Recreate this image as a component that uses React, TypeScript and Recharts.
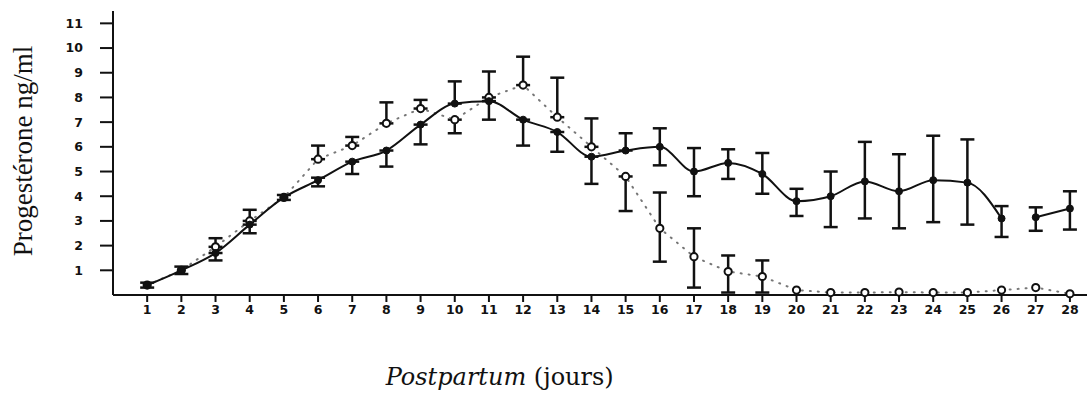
import React from 'react';
import { LineChart, Line, XAxis, YAxis, ErrorBar, Label } from 'recharts';

const days = [1, 2, 3, 4, 5, 6, 7, 8, 9, 10, 11, 12, 13, 14, 15, 16, 17, 18, 19, 20, 21, 22, 23, 24, 25, 26, 27, 28];
const yTicks = [1, 2, 3, 4, 5, 6, 7, 8, 9, 10, 11];

const solidMean = [0.4, 1.0, 1.7, 2.85, 3.95, 4.65, 5.4, 5.85, 6.9, 7.75, 7.85, 7.1, 6.6, 5.6, 5.85, 6.0, 5.0, 5.35, 4.9, 3.8, 4.0, 4.6, 4.2, 4.65, 4.55, 3.1, 3.15, 3.5];
const solidErrLow = [0.1, 0.15, 0.3, 0.35, 0.1, 0.25, 0.5, 0.65, 0.8, 0, 0.75, 1.05, 0.8, 1.1, 0, 0.75, 1.0, 0.65, 0.8, 0.6, 1.25, 1.5, 1.5, 1.7, 1.7, 0.75, 0.55, 0.85];
const solidErrHigh = [0.1, 0.15, 0, 0, 0.1, 0.1, 0, 0, 0, 0.9, 0, 0, 0, 0, 0.7, 0.75, 0.95, 0.55, 0.85, 0.5, 1.0, 1.6, 1.5, 1.8, 1.75, 0.5, 0.4, 0.7];

const openMean = [0.4, 1.0, 1.95, 3.0, 3.95, 5.5, 6.05, 6.95, 7.55, 7.1, 8.0, 8.5, 7.2, 6.0, 4.8, 2.7, 1.55, 0.95, 0.75, 0.2, 0.1, 0.1, 0.12, 0.1, 0.1, 0.2, 0.3, 0.05];
const openErrLow = [0, 0, 0, 0, 0, 0, 0, 0, 0, 0.55, 0, 0, 0, 0, 1.4, 1.35, 1.25, 0.85, 0.65, 0, 0, 0, 0, 0, 0, 0, 0, 0];
const openErrHigh = [0, 0, 0.35, 0.45, 0, 0.55, 0.35, 0.85, 0.35, 0, 1.05, 1.15, 1.6, 1.15, 0, 1.45, 1.15, 0.65, 0.65, 0, 0, 0, 0, 0, 0, 0, 0, 0];

const GAP_AFTER_DAY = 26;

const err = (lo: number, hi: number) => (lo === 0 && hi === 0 ? undefined : [lo, hi]);

const data = days.map((d, i) => ({
  day: d,
  solidA: d <= GAP_AFTER_DAY ? solidMean[i] : null,
  solidB: d > GAP_AFTER_DAY ? solidMean[i] : null,
  solidErrA: d <= GAP_AFTER_DAY ? err(solidErrLow[i], solidErrHigh[i]) : undefined,
  solidErrB: d > GAP_AFTER_DAY ? err(solidErrLow[i], solidErrHigh[i]) : undefined,
  open: openMean[i],
  openErr: err(openErrLow[i], openErrHigh[i]),
}));

const tickStyle = { fill: '#111', fontSize: 12.5, fontWeight: 700, fontFamily: 'DejaVu Sans' };

const XTitle = (props: any) => {
  const vb = props.viewBox || { x: 113, y: 295, width: 974, height: 99 };
  return (
    <text
      x={vb.x + vb.width * 0.397}
      y={vb.y + 90}
      textAnchor="middle"
      fill="#111"
      fontFamily="DejaVu Serif"
      fontSize={24}
    >
      <tspan fontStyle="italic">Postpartum</tspan>
      <tspan> (jours)</tspan>
    </text>
  );
};

const YTitle = (props: any) => {
  const vb = props.viewBox || { x: 0, y: 11, width: 113, height: 284 };
  const cx = vb.x + 32;
  const cy = vb.y + 140;
  return (
    <text
      x={cx}
      y={cy}
      transform={`rotate(-90, ${cx}, ${cy})`}
      textAnchor="middle"
      fill="#111"
      fontFamily="Liberation Serif"
      fontSize={27}
    >
      Progestérone ng/ml
    </text>
  );
};

export default function App() {
  return (
    <div style={{ position: 'absolute', left: 0, top: 0, width: 1089, height: 394, background: '#fff' }}>
      <LineChart
        width={1089}
        height={394}
        data={data}
        margin={{ top: 11, right: 2, bottom: 0, left: 0 }}
      >
        <XAxis
          dataKey="day"
          type="number"
          domain={[0, 28.5]}
          ticks={days}
          interval={0}
          height={99}
          tickSize={7}
          tickMargin={3}
          tick={tickStyle}
          axisLine={{ stroke: '#111', strokeWidth: 2 }}
          tickLine={{ stroke: '#111', strokeWidth: 2 }}
        >
          <Label content={XTitle} />
        </XAxis>
        <YAxis
          type="number"
          domain={[0, 11.5]}
          ticks={yTicks}
          interval={0}
          width={113}
          tickSize={13}
          tickMargin={17}
          tick={tickStyle}
          axisLine={{ stroke: '#111', strokeWidth: 2 }}
          tickLine={{ stroke: '#111', strokeWidth: 2 }}
        >
          <Label content={YTitle} />
        </YAxis>
        <Line
          dataKey="open"
          type="linear"
          stroke="#777"
          strokeWidth={2}
          strokeDasharray="1 7"
          strokeLinecap="round"
          dot={{ r: 3.6, fill: '#fff', stroke: '#111', strokeWidth: 2, strokeDasharray: 'none' }}
          isAnimationActive={false}
        >
          <ErrorBar dataKey="openErr" direction="y" width={7} stroke="#111" strokeWidth={2.5} />
        </Line>
        <Line
          dataKey="solidA"
          type="monotone"
          stroke="#111"
          strokeWidth={2}
          dot={{ r: 3.5, fill: '#111', stroke: '#111', strokeWidth: 1 }}
          isAnimationActive={false}
        >
          <ErrorBar dataKey="solidErrA" direction="y" width={7} stroke="#111" strokeWidth={2.5} />
        </Line>
        <Line
          dataKey="solidB"
          type="monotone"
          stroke="#111"
          strokeWidth={2}
          dot={{ r: 3.5, fill: '#111', stroke: '#111', strokeWidth: 1 }}
          isAnimationActive={false}
        >
          <ErrorBar dataKey="solidErrB" direction="y" width={7} stroke="#111" strokeWidth={2.5} />
        </Line>
      </LineChart>
    </div>
  );
}
